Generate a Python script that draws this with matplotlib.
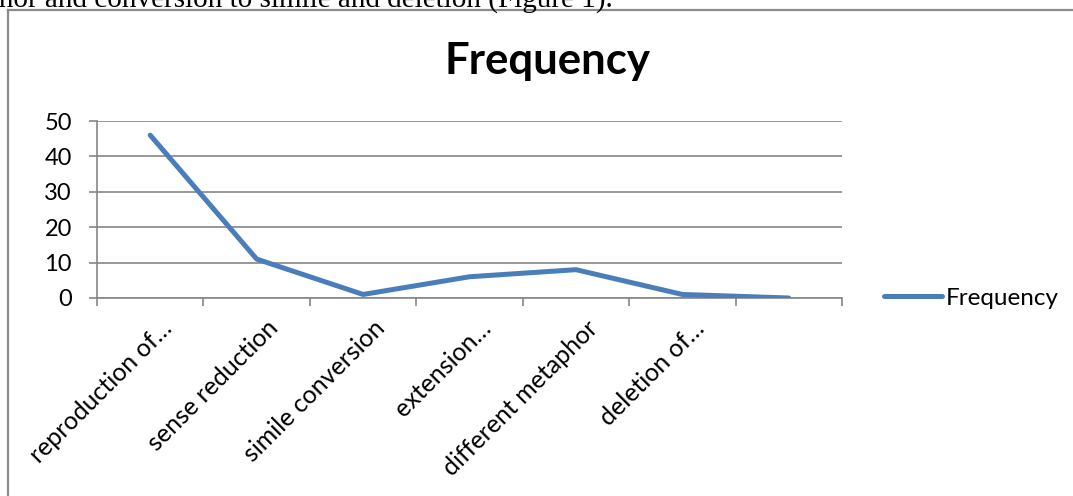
import matplotlib.pyplot as plt
from matplotlib.lines import Line2D
from matplotlib.transforms import Affine2D

# data
categories = ['reproduction of\u2026', 'sense reduction', 'simile conversion',
              'extension\u2026', 'different metaphor', 'deletion of\u2026', '']
frequency = [46, 11, 1, 6, 8, 1, 0]
yticks = [0, 10, 20, 30, 40, 50]

W, H = 1073, 496
fig = plt.figure(figsize=(W / 100, H / 100), dpi=100)
plt.rcParams['font.family'] = ['Lato', 'DejaVu Sans']

# cropped sentence of the surrounding document
fig.text(613 / W, 1 - 7 / H, 'metaphor and conversion to simile and deletion (Figure 1).',
         ha='right', va='baseline', fontsize=21, family='Liberation Serif')

# chart frame (only top and left edge visible)
gray = '#8c8c8c'
fig.add_artist(Line2D([8 / W, 1.0], [1 - 10 / H] * 2, color=gray, lw=1.6,
                      transform=fig.transFigure))
fig.add_artist(Line2D([8 / W] * 2, [0.0, 1 - 10 / H], color=gray, lw=1.6,
                      transform=fig.transFigure))

ax = fig.add_axes([97 / W, 1 - 298 / H, (842 - 97) / W, (298 - 121) / H])
x = list(range(len(categories)))
ax.plot(x, frequency, color='#4a7ebb', lw=3.6, solid_capstyle='round',
        solid_joinstyle='round', label='Frequency', zorder=3)

ax.set_xlim(-0.5, len(categories) - 0.5)
ax.set_ylim(0, 50)
ax.set_yticks(yticks)
ax.grid(axis='y', color='#868686', lw=1.2)
ax.set_axisbelow(True)

for s in ['top', 'right']:
    ax.spines[s].set_visible(False)
for s in ['left', 'bottom']:
    ax.spines[s].set_color('#868686')
    ax.spines[s].set_linewidth(1.2)

ax.tick_params(axis='y', length=6, width=1.2, color='#868686', labelsize=17, pad=12)
ax.set_xticks([i - 0.5 for i in range(len(categories) + 1)])
ax.set_xticklabels([])
ax.tick_params(axis='x', which='major', length=6, width=1.2, color='#868686')
ax.set_xticks(x, minor=True)
ax.set_xticklabels(categories, minor=True, rotation=45, ha='right',
                   rotation_mode='anchor', fontsize=18)
ax.tick_params(axis='x', which='minor', length=0, pad=11)
for lbl in ax.get_xticklabels(minor=True):
    lbl.set_transform(lbl.get_transform() + Affine2D().translate(10, -3))

fig.text(547 / W, 1 - 61 / H, 'Frequency', ha='center', va='center',
         fontsize=31.5, fontweight='bold')

fig.legend(loc='center left', bbox_to_anchor=(862 / W, 1 - 298 / H), frameon=False,
           fontsize=17.5, handlelength=2.4, handletextpad=0.15)

fig.savefig('out.png', dpi=100)
